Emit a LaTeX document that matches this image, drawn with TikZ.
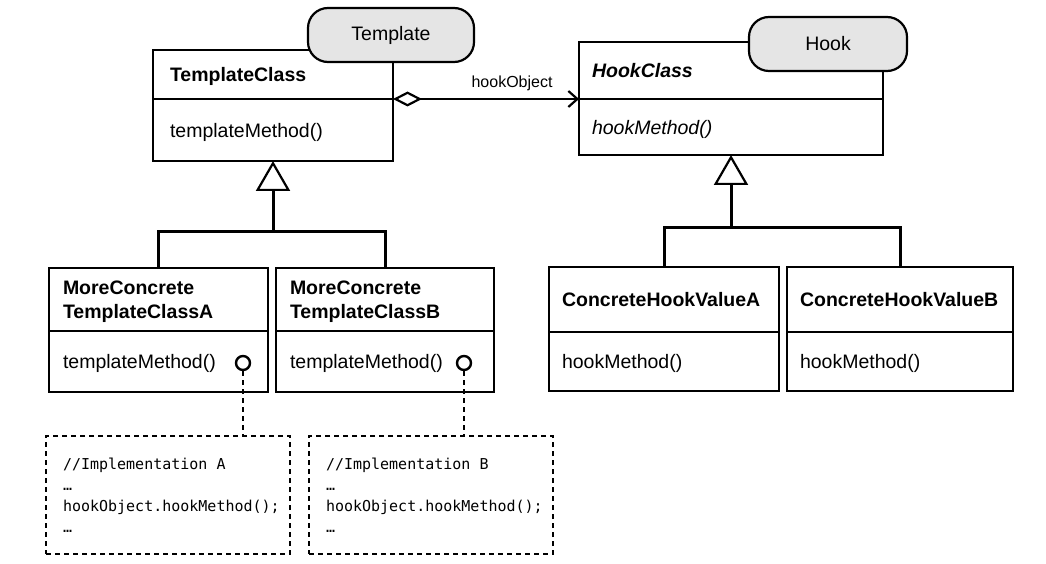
\documentclass[tikz,border=0pt]{standalone}
\usepackage{fontspec}
\setmainfont{Liberation Sans}
\newfontfamily\monof[WordSpace={1,0,0}]{DejaVu Sans Mono}
\usetikzlibrary{arrows.meta}
\newcommand{\msp}{\hspace*{0.602em}}
\begin{document}
\begin{tikzpicture}[x=1pt,y=-1pt,
  comp/.style={draw, line width=1.8pt, rectangle, anchor=north west, outer sep=0pt,
    inner xsep=14pt, inner ysep=0pt, align=left, text depth=0pt, font=\fontsize{19.5}{24}\selectfont},
  pill/.style={draw, line width=2.2pt, fill=gray!20, rounded corners=20pt, outer sep=0pt,
    anchor=north west, inner sep=0pt, font=\fontsize{19.5}{24}\selectfont},
  note/.style={draw, line width=1.7pt, dash pattern=on 5pt off 4pt, anchor=north west,
    outer sep=0pt, inner xsep=17pt, inner ysep=0pt, text width=210pt, minimum width=244pt,
    minimum height=118pt, align=left, font=\monof\fontsize{15}{21}\selectfont},
  lolli/.style={circle, draw, line width=2.4pt, minimum size=14pt, inner sep=0pt, fill=white},
  gen/.style={line width=3pt},
  gentip/.style={-{Triangle[open,length=30pt,width=34pt,line width=2.2pt]}},
  agg/.style={line width=2.2pt, {Diamond[open,length=29pt,width=15pt]}-{Straight Barb[length=9pt,width=16pt]}},
  dashline/.style={line width=1.7pt, dash pattern=on 5pt off 4pt},
  lbl/.style={font=\fontsize{16}{19}\selectfont, inner sep=2pt}
]
\useasboundingbox (0,0) rectangle (1046,564);
\fill[white] (0,0) rectangle (1046,564);

% TemplateClass
\node[comp, inner xsep=17pt, text width=206pt, minimum height=49pt] (tcT) at (153,50) {\bfseries TemplateClass};
\node[comp, inner xsep=17pt, text width=206pt, minimum height=62pt] (tcM) at (tcT.south west) {templateMethod()};
\node[pill, minimum width=166pt, minimum height=54pt] (tpill) at (308,8) {Template};

% HookClass
\node[comp, inner xsep=13pt, text width=278pt, minimum height=57pt] (hcT) at (579,42) {\bfseries\itshape HookClass};
\node[comp, inner xsep=13pt, text width=278pt, minimum height=56pt] (hcM) at (hcT.south west) {\itshape hookMethod()};
\node[pill, minimum width=158pt, minimum height=54pt] (hpill) at (749,17) {Hook};

% MoreConcrete classes
\node[comp, text depth=24pt, text width=191pt, minimum height=63pt] (mcAT) at (49,268) {\bfseries MoreConcrete\\\bfseries TemplateClassA};
\node[comp, text width=191pt, minimum height=61pt] (mcAM) at (mcAT.south west) {templateMethod()};
\node[comp, text depth=24pt, text width=190pt, minimum height=63pt] (mcBT) at (276,268) {\bfseries MoreConcrete\\\bfseries TemplateClassB};
\node[comp, text width=190pt, minimum height=61pt] (mcBM) at (mcBT.south west) {templateMethod()};

% Concrete hook values
\node[comp, inner xsep=13pt, text width=204pt, minimum height=65pt] (chAT) at (549,267) {\bfseries ConcreteHookValueA};
\node[comp, inner xsep=13pt, text width=204pt, minimum height=59pt] (chAM) at (chAT.south west) {hookMethod()};
\node[comp, inner xsep=13pt, text width=200pt, minimum height=65pt] (chBT) at (787,267) {\bfseries ConcreteHookValueB};
\node[comp, inner xsep=13pt, text width=200pt, minimum height=59pt] (chBM) at (chBT.south west) {hookMethod()};

% notes
\node[note] (nA) at (46,436) {//Implementation\msp A\\…\\hookObject.hookMethod();\\…};
\node[note] (nB) at (309,436) {//Implementation\msp B\\…\\hookObject.hookMethod();\\…};

% lollipops
\node[lolli] (cA) at (243,363) {};
\node[lolli] (cB) at (464,363) {};
\draw[dashline] (cA.south) -- (cA.south |- nA.north);
\draw[dashline] (cB.south) -- (cB.south |- nB.north);

% generalisation
\coordinate (j1) at (273,231);
\draw[gen] (mcAT.north) |- (j1) -| (mcBT.north);
\draw[gen, gentip] (j1) -- (tcM.south);
\coordinate (j2) at (731,227);
\draw[gen] (chAT.north) |- (j2) -| (chBT.north);
\draw[gen, gentip] (j2) -- (hcM.south);

% aggregation
\draw[agg] (tcT.south east) -- (hcT.south west)
  node[lbl, pos=0.64, above=5pt] (lab) {hookObject};
\end{tikzpicture}
\end{document}
